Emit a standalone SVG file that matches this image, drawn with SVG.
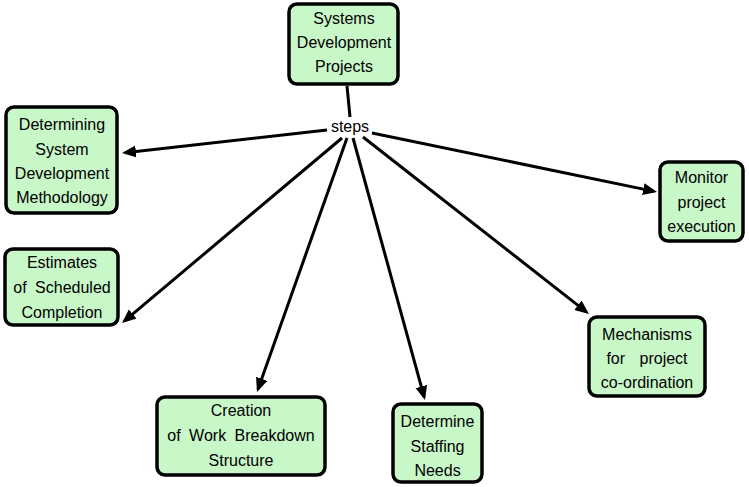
<svg xmlns="http://www.w3.org/2000/svg" width="749" height="487" viewBox="0 0 749 487">
<style>
.box{fill:#c8f7c8;stroke:#000;stroke-width:3.5}
.t{font-family:"Liberation Sans",Arial,sans-serif;font-size:16px;fill:#000;text-anchor:middle}
.c{stroke:#000;stroke-width:3;fill:none}
</style>
<defs>
<marker id="ah" markerUnits="userSpaceOnUse" markerWidth="16" markerHeight="14" refX="11" refY="6" orient="auto">
<path d="M0,0 L14,6 L0,12 Z" fill="#000"/>
</marker>
</defs>
<rect width="749" height="487" fill="#fff"/>
<g id="connectors">
<line class="c" x1="347" y1="86" x2="350" y2="117"/>
<text class="t" x="350" y="132">steps</text>
<line class="c" x1="327" y1="130" x2="125" y2="152.7" marker-end="url(#ah)"/>
<line class="c" x1="342" y1="138" x2="124.3" y2="321.1" marker-end="url(#ah)"/>
<line class="c" x1="347" y1="138" x2="258" y2="389.2" marker-end="url(#ah)"/>
<line class="c" x1="353" y1="138" x2="424.2" y2="397.1" marker-end="url(#ah)"/>
<line class="c" x1="363" y1="137" x2="586.6" y2="312.1" marker-end="url(#ah)"/>
<line class="c" x1="372" y1="133" x2="654.1" y2="191.4" marker-end="url(#ah)"/>
</g>
<g id="node-systems">
<rect class="box" x="289" y="4" width="109" height="80" rx="8"/>
<text class="t" x="344" y="24">Systems</text>
<text class="t" x="344" y="48">Development</text>
<text class="t" x="344" y="72">Projects</text>
</g>
<g id="node-methodology">
<rect class="box" x="6" y="107" width="111" height="106" rx="8"/>
<text class="t" x="62" y="130">Determining</text>
<text class="t" x="62" y="154.5">System</text>
<text class="t" x="62" y="179">Development</text>
<text class="t" x="62" y="203">Methodology</text>
</g>
<g id="node-estimates">
<rect class="box" x="5" y="249" width="113" height="76" rx="8"/>
<text class="t" x="62" y="268">Estimates</text>
<text class="t" x="62" y="293" word-spacing="4">of Scheduled</text>
<text class="t" x="62" y="317.5">Completion</text>
</g>
<g id="node-wbs">
<rect class="box" x="157" y="397" width="168" height="78" rx="8"/>
<text class="t" x="241" y="416">Creation</text>
<text class="t" x="241" y="441" word-spacing="4">of Work Breakdown</text>
<text class="t" x="241" y="466">Structure</text>
</g>
<g id="node-staffing">
<rect class="box" x="393" y="404" width="89" height="78" rx="8"/>
<text class="t" x="437.5" y="427">Determine</text>
<text class="t" x="437.5" y="451.5">Staffing</text>
<text class="t" x="437.5" y="476">Needs</text>
</g>
<g id="node-monitor">
<rect class="box" x="660" y="162" width="83" height="79" rx="8"/>
<text class="t" x="701.5" y="183">Monitor</text>
<text class="t" x="701.5" y="207.5">project</text>
<text class="t" x="701.5" y="232">execution</text>
</g>
<g id="node-mechanisms">
<rect class="box" x="589" y="317" width="116" height="79" rx="8"/>
<text class="t" x="647" y="340">Mechanisms</text>
<text class="t" x="647" y="364" word-spacing="10">for project</text>
<text class="t" x="647" y="388">co-ordination</text>
</g>
</svg>
